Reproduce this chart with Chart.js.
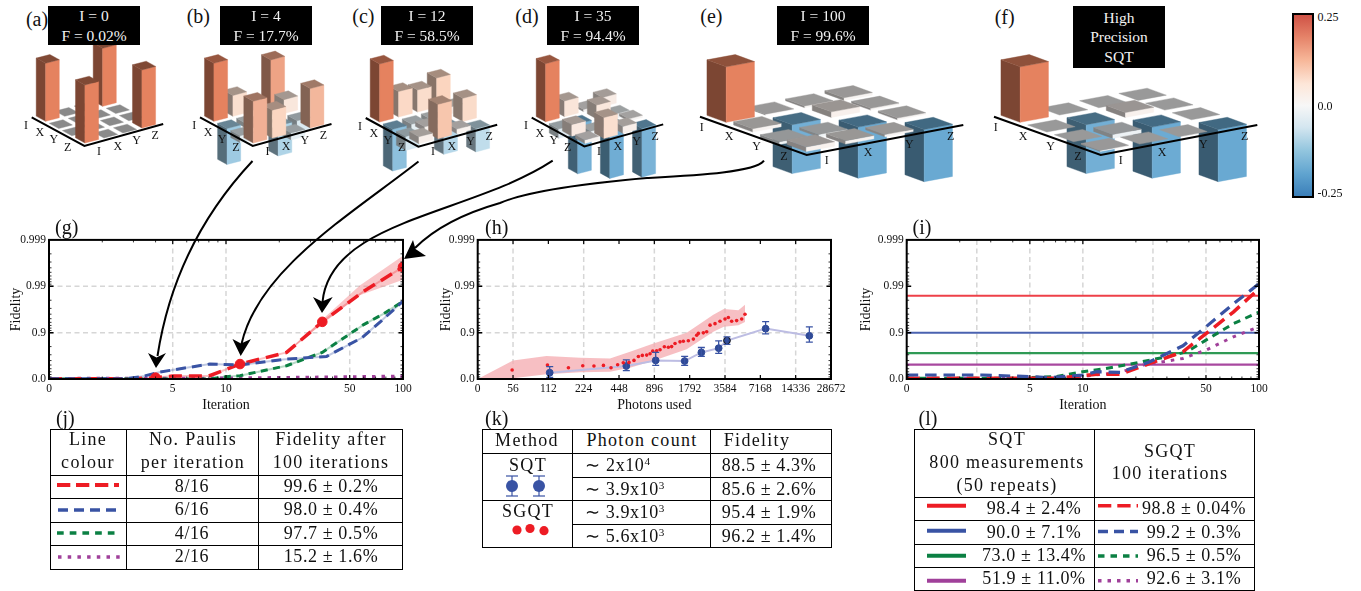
<!DOCTYPE html>
<html><head><meta charset="utf-8">
<script src="https://cdn.jsdelivr.net/npm/chart.js@4/dist/chart.umd.min.js"></script>
<style>
html,body{margin:0;padding:0;background:#fff;width:1361px;height:591px;overflow:hidden;font-family:"Liberation Serif",serif;color:#111}
canvas{position:absolute}
.t{position:absolute;transform:translate(-50%,-50%);white-space:nowrap;z-index:6;line-height:1}
.box{position:absolute;background:#000;color:#f2f2f2;font-size:15.5px;line-height:19.5px;text-align:center;z-index:6;display:flex;flex-direction:column;justify-content:center}
.ln{position:absolute;background:#000;z-index:6}
sup{font-size:.62em;line-height:0;vertical-align:.55em}
svg{position:absolute;left:0;top:0;z-index:7}
</style></head><body>
<script>
/* ---------- data: Pauli bar panels (row, then column; I X Y Z) ---------- */
const paulis=['I','X','Y','Z'];
const panelA=[[.25,0,0,.25],[0,0,0,0],[0,0,0,0],[.25,0,0,.25]];
const panelB=[[.25,.09,.004,.2],[-.155,-.02,.01,.06],[-.03,.02,-.13,-.05],[.18,.12,-.03,.17]];
const panelC=[[.25,.11,.095,.125],[-.18,-.03,-.02,.03],[-.06,.02,-.12,.10],[.03,.148,.02,-.1]];
const panelD=[[.25,.068,.01,.04],[-.04,-.215,.06,-.02],[.05,-.02,-.225,.01],[.015,.09,.03,-.21]];
const panelE=[[.25,.004,.008,.012],[.015,-.22,.025,.008],[-.012,-.012,-.23,.008],[.02,.015,.01,-.235]];
const panelF=[[.25,0,0,0],[0,-.22,.022,0],[0,-.018,-.23,0],[.004,0,0,-.235]];

/* ---------- data: (g) fidelity against iteration ---------- */
const iterTickValues=[1,5,10,50,100], iterTickLabels=['0','5','10','50','100'];
const fidTickValues=[0,0.9,0.99,0.999], fidTickLabels=['0.0','0.9','0.99','0.999'];
const gRedIter=[1,3,4,5,8,12,22,35,60,100];
const gRedFid=[0,.016,.064,.138,.138,.524,.733,.9415,.9872,.99616];
const gMarkIter=[4,12,35,100];
const gMarkFid=[.064,.524,.9415,.99616];
const gBlueIter=[1,2.74,3.4,4.23,8.1,12,21,37,58.6,74.4,100];
const gBlueFid=[.016,.016,.123,.293,.524,.5,.622,.674,.871,.9415,.979];
const gGreenIter=[1,8,10,12,22,35,60,78,100];
const gGreenFid=[0,0,.109,.152,.483,.733,.933,.961,.979];
const gPurpleIter=[1,10,50,100];
const gPurpleFid=[.016,.032,.094,.123];
const gBandIter=[22,35,57,100];
const gBandUp=[.733,.948,.9904,.9978];
const gBandLow=[.733,.935,.9844,.9928];

/* ---------- data: (h) fidelity against photons used ---------- */
const photonTickValues=[28,56,112,224,448,896,1792,3584,7168,14336,28672];
const photonTickLabels=['0','56','112','224','448','896','1792','3584','7168','14336','28672'];
const hRedPhotons=[55,110,166,220,274,330,383,436,487,545,601,655,708,771,823,868,938,1002,1090,1179,1258,1344,1482,1582,1745,1926,2056,2124,2343,2501,2671,2946,3248,3584,3826,4084,4503,4972,5305];
const hRedFid=[.359,.499,.429,.483,.474,.491,.429,.508,.554,.561,.603,.674,.69,.695,.714,.749,.753,.766,.798,.794,.8,.829,.842,.847,.85,.862,.886,.896,.899,.904,.931,.936,.943,.949,.953,.943,.945,.949,.96];
const hBandPhotons=[28,56,108,209,375,556,880,1690,2850,3500,4660,5305];
const hBandUp=[0,.603,.679,.652,.64,.741,.829,.9,.959,.969,.967,.975];
const hBandLow=[0,.032,.206,.281,.304,.429,.596,.773,.904,.925,.931,.941];
const hBluePhotons=[115,517,920,1623,2254,3165,3725,7950,18750];
const hBlueFid=[.269,.474,.603,.59,.733,.784,.852,.918,.883];
const hBlueErrUp=[.457,.615,.733,.674,.791,.85,.877,.942,.925];
const hBlueErrLow=[.08,.338,.491,.491,.674,.719,.82,.894,.84];

/* ---------- data: (i) SQT levels and SGQT curves ---------- */
const iterEnds=[1,100];
const iRedLevel=[.984,.984], iBlueLevel=[.9,.9], iGreenLevel=[.722,.722], iPurpleLevel=[.51,.51];
const iRedIter=[1,5,7.1,10,12,16.3,24,37,50,71.5,100];
const iRedFid=[.032,.032,.032,.152,.206,.206,.539,.741,.895,.964,.9887];
const iBlueIter=[1,2.7,5,6.5,10,12,16.3,24,37,50,71.5,100];
const iBlueFid=[.18,.18,.109,.064,.18,.304,.281,.575,.808,.925,.976,.9912];
const iGreenIter=[1,4.2,7.1,10,13,19.4,30,38.9,50,71.5,100];
const iGreenFid=[.032,.032,.123,.304,.39,.539,.669,.741,.855,.936,.964];
const iPurpleIter=[1,6.5,10,11.5,15.6,22,37,50,71.5,100];
const iPurpleFid=[.016,.032,.109,.18,.245,.5,.64,.762,.877,.925];

/* ---------- palette / helpers ---------- */
const RED='#ed1c24',BLUE='#3953a4',GREEN='#0b8043',PURPLE='#a0409a';
const DASH={red:[13,7],blue:[10,6],green:[7,5.5],purple:[3.5,6]};
Chart.defaults.font.family='"Liberation Serif",serif';
Chart.defaults.color='#111';
Chart.defaults.animation=false;
const body=document.body;
function txt(x,y,s,size,extra){const d=document.createElement('div');d.className='t';d.style.left=x+'px';d.style.top=y+'px';d.style.fontSize=size+'px';d.innerHTML=s;if(extra)Object.assign(d.style,extra);body.appendChild(d);return d;}
function mkCanvas(x,y,w,h){const c=document.createElement('canvas');c.width=w;c.height=h;c.style.left=x+'px';c.style.top=y+'px';c.style.width=w+'px';c.style.height=h+'px';body.appendChild(c);return c;}
const pts=(xs,fs)=>xs.map((x,i)=>({x,y:1-fs[i]}));

/* ---------- 3D Pauli panels ---------- */
function faceColor(v){
  const st=[[-.25,[95,163,207]],[-.125,[178,214,232]],[0,[247,247,247]],[.125,[251,213,191]],[.25,[229,130,95]]];
  v=Math.max(-.25,Math.min(.25,v));
  for(let i=0;i<4;i++){if(v<=st[i+1][0]){const t=(v-st[i][0])/(st[i+1][0]-st[i][0]);return st[i][1].map((a,k)=>a+(st[i+1][1][k]-a)*t);}}
  return st[4][1];
}
const shade=(c,f)=>`rgb(${c.map(a=>Math.round(a*f)).join(',')})`;
const bars3d={id:'bars3d',afterDatasetsDraw(ch,_,o){
  const g=ch.ctx,X=ch.scales.x,Y=ch.scales.y,ratio=o.R[0]/o.C[0],W=o.width;
  const P=(r,c,v)=>[X.getPixelForValue(c+r*ratio),Y.getPixelForValue(v-(r*o.R[1]+c*o.C[1])/o.H)];
  const poly=(a,col)=>{g.beginPath();a.forEach((p,i)=>i?g.lineTo(p[0],p[1]):g.moveTo(p[0],p[1]));g.closePath();g.fillStyle=col;g.strokeStyle=col;g.lineWidth=.4;g.fill();g.stroke();};
  const cells=ch.data.datasets[0].data.slice().sort((a,b)=>((a.v<0?0:1)-(b.v<0?0:1))||((a.r-a.c)-(b.r-b.c)));
  g.save();
  cells.forEach(d=>{
    const r0=d.r+.5-W/2,r1=d.r+.5+W/2,c0=d.c+.5-W/2,c1=d.c+.5+W/2,top=Math.max(d.v,0),bot=Math.min(d.v,0),col=faceColor(d.v);
    if(top!==bot){
      poly([P(r0,c0,top),P(r1,c0,top),P(r1,c0,bot),P(r0,c0,bot)],shade(col,.54));
      poly([P(r1,c0,top),P(r1,c1,top),P(r1,c1,bot),P(r1,c0,bot)],shade(col,1));
    }
    poly([P(r0,c0,top),P(r1,c0,top),P(r1,c1,top),P(r0,c1,top)],shade(col,o.topShade));
  });
  const a=o.axis;
  g.beginPath();g.moveTo(a[0][0],a[0][1]);g.lineTo(a[1][0],a[1][1]);g.lineTo(a[2][0],a[2][1]);g.lineWidth=2;g.strokeStyle='#000';g.stroke();
  g.restore();
}};
function panel(values,cv,geo){
  const [cx,cy,cw,chh]=cv,Ox=geo.O[0]-cx,Oy=geo.O[1]-cy;
  const data=[];
  values.forEach((row,r)=>row.forEach((v,c)=>data.push({x:c+.5+(r+.5)*geo.R[0]/geo.C[0],y:v-((r+.5)*geo.R[1]+(c+.5)*geo.C[1])/geo.H,r,c,v})));
  new Chart(mkCanvas(cx,cy,cw,chh),{type:'scatter',data:{datasets:[{data,pointRadius:0}]},plugins:[bars3d],options:{
    responsive:false,layout:{padding:0},
    plugins:{legend:{display:false},tooltip:{enabled:false},bars3d:{R:geo.R,C:geo.C,H:geo.H,width:geo.w,topShade:geo.top,axis:geo.axis.map(p=>[p[0]-cx,p[1]-cy])}},
    scales:{x:{display:false,min:-Ox/geo.C[0],max:(cw-Ox)/geo.C[0]},y:{display:false,min:(Oy-chh)/geo.H,max:Oy/geo.H}}}});
  paulis.forEach((s,i)=>{
    txt(geo.lab1[0]+i*geo.lab1[2],geo.lab1[1]+i*geo.lab1[3],s,12);
    txt(geo.lab2[0]+i*geo.lab2[2],geo.lab2[1]+i*geo.lab2[3],s,12);
  });
}
function small(L){return {O:[L[0],L[1]-1.5],R:[13.1,7.23],C:[19,-5],H:232,w:.72,top:.66,
  axis:[L,[L[0]+52.7,L[1]+28.7],[L[0]+131.5,L[1]+6.7]],
  lab1:[L[0]-5.7,L[1]+7.7,13.9,7.2],lab2:[L[0]+67.4,L[1]+33.4,18.7,-5.2]};}
function big(L){return {O:[L[0]-2.3,L[1]-1.7],R:[26.7,9.7],C:[39.3,-7.3],H:222,w:.72,top:.62,
  axis:[L,[L[0]+106.7,L[1]+38.3],[L[0]+263.3,L[1]+8.3]],
  lab1:[L[0]+1.7,L[1]+10,27.4,9.7],lab2:[L[0]+126.7,L[1]+43.3,41.3,-8]};}
panel(panelA,[10,35,180,160],Object.assign(small([31.7,117.3]),{top:.56}));
panel(panelB,[185,35,165,160],small([200,117.3]));
panel(panelC,[352,35,160,160],small([365.7,118]));
panel(panelD,[515,35,165,160],small([531.7,117.7]));
panel(panelE,[690,35,285,160],big([700,116.7]));
panel(panelF,[985,35,285,160],big([994,116.7]));

/* ---------- headings ---------- */
[[25,'(a)',36,19],[187,'(b)',34,16],[352,'(c)',34,16],[515,'(d)',36,16],[700,'(e)',34,16],[994,'(f)',32,17],
 [54,'(g)',38,227],[484,'(h)',38,227],[912,'(i)',30,227],[54,'(j)',34,418],[484,'(k)',38,418],[918,'(l)',30,418]]
 .forEach(a=>{txt(a[0]+a[2]/3,a[3],a[1],20);});
[[48,6,92,39,'I = 0<br>F = 0.02%'],[220,6,92,39,'I = 4<br>F = 17.7%'],[381,6,92,39,'I = 12<br>F = 58.5%'],
 [547,6,92,39,'I = 35<br>F = 94.4%'],[777,6,92,39,'I = 100<br>F = 99.6%'],[1073,6,92,62,'High<br>Precision<br>SQT']]
 .forEach(b=>{const d=document.createElement('div');d.className='box';Object.assign(d.style,{left:b[0]+'px',top:b[1]+'px',width:b[2]+'px',height:b[3]+'px'});d.innerHTML='<div>'+b[4]+'</div>';body.appendChild(d);});

/* ---------- colour bar ---------- */
const cb=document.createElement('div');
Object.assign(cb.style,{position:'absolute',left:'1292px',top:'13px',width:'18px',height:'181px',border:'2px solid #000',background:'linear-gradient(#cf5246 0%,#e58268 12%,#f7b799 25%,#fde6d8 38%,#f7f7f7 50%,#d4e6f0 62%,#92c5de 75%,#5fa3cf 88%,#3b7fb9 100%)'});
body.appendChild(cb);
txt(1328,17,'0.25',12);txt(1325,106,'0.0',12);txt(1330,193,'-0.25',12);

/* ---------- line plots ---------- */
const frame={id:'frame',
 beforeDatasetsDraw(ch,_,o){
  const g=ch.ctx,a=ch.chartArea,X=ch.scales.x,Y=ch.scales.y;
  g.save();g.strokeStyle='#d6d6d6';g.lineWidth=1.5;g.setLineDash([5,3.5]);
  (o.xGrid||[]).forEach(v=>{const p=X.getPixelForValue(v);g.beginPath();g.moveTo(p,a.top);g.lineTo(p,a.bottom);g.stroke();});
  (o.yGrid||[]).forEach(v=>{const p=Y.getPixelForValue(1-v);g.beginPath();g.moveTo(a.left,p);g.lineTo(a.right,p);g.stroke();});
  g.restore();
 },
 afterDatasetsDraw(ch,_,o){
  const g=ch.ctx,a=ch.chartArea,X=ch.scales.x,Y=ch.scales.y;
  g.save();
  if(o.err){g.strokeStyle=BLUE;g.lineWidth=1.3;
    o.err.x.forEach((x,i)=>{const p=X.getPixelForValue(x),u=Y.getPixelForValue(1-o.err.up[i]),l=Y.getPixelForValue(1-o.err.low[i]);
      g.beginPath();g.moveTo(p,u);g.lineTo(p,l);g.moveTo(p-3.5,u);g.lineTo(p+3.5,u);g.moveTo(p-3.5,l);g.lineTo(p+3.5,l);g.stroke();});}
  g.strokeStyle='#000';
  const tx=(v,len,w)=>{const p=X.getPixelForValue(v);g.lineWidth=w;g.beginPath();g.moveTo(p,a.top);g.lineTo(p,a.top+len);g.moveTo(p,a.bottom);g.lineTo(p,a.bottom-len);g.stroke();};
  const ty=(v,len,w)=>{const p=Y.getPixelForValue(v);g.lineWidth=w;g.beginPath();g.moveTo(a.left,p);g.lineTo(a.left+len,p);g.moveTo(a.right,p);g.lineTo(a.right-len,p);g.stroke();};
  (o.xMinor||[]).forEach(v=>tx(v,2.5,.8));
  (o.xMajor||[]).forEach(v=>tx(v,4,1.2));
  [.001,.01,.1].forEach(d=>{for(let k=2;k<10;k++)ty(d*k,2.5,.8);});
  [.1,.01].forEach(v=>ty(v,4.5,1.5));
  g.lineWidth=2;g.strokeRect(a.left,a.top,a.right-a.left,a.bottom-a.top);
  g.restore();
 }};
function plot(cv,area,xName,xVals,xLabs,datasets,fr,xMin,xMax){
  const [cx,cy,cw,chh]=cv;
  const yLabs=new Map(fidTickValues.map((f,i)=>[+(1-f).toFixed(3),fidTickLabels[i]]));
  const xLab=new Map(xVals.map((v,i)=>[v,xLabs[i]]));
  new Chart(mkCanvas(cx,cy,cw,chh),{type:'line',data:{datasets},plugins:[frame],options:{
    responsive:false,
    layout:{padding:{top:area[1]-cy,right:cx+cw-area[2],left:0,bottom:0}},
    elements:{point:{radius:0},line:{tension:0}},
    plugins:{legend:{display:false},tooltip:{enabled:false},frame:fr},
    scales:{
      x:{type:'logarithmic',min:xMin,max:xMax,grid:{display:false,drawTicks:false},border:{display:false},
         afterBuildTicks:s=>{s.ticks=xVals.map(v=>({value:v}));},
         afterFit:s=>{s.height=cy+chh-area[3];},
         ticks:{autoSkip:false,maxRotation:0,padding:3,font:{size:11.5},color:'#111',callback:v=>xLab.has(v)?xLab.get(v):''},
         title:{display:true,text:xName,font:{size:14},color:'#111',padding:{top:0,bottom:1.6}}},
      y:{type:'logarithmic',reverse:true,min:.001,max:1,grid:{display:false,drawTicks:false},border:{display:false},
         afterBuildTicks:s=>{s.ticks=fidTickValues.map(f=>({value:+(1-f).toFixed(3)}));},
         afterFit:s=>{s.width=area[0]-cx;},
         ticks:{autoSkip:false,padding:3,font:{size:11.5},color:'#111',callback:v=>yLabs.get(+(+v).toFixed(3))||''},
         title:{display:true,text:'Fidelity',font:{size:14},color:'#111',padding:{top:fr.titleTop,bottom:0}}}
    }}});
}
const dash=(x,f,col,d,w)=>({data:pts(x,f),borderColor:col,borderWidth:w,borderDash:d,fill:false});
const faint=(x,f,col)=>({data:pts(x,f),borderColor:col,borderWidth:2,fill:false});

/* (g) */
plot([0,230,420,185],[49,239.5,403,379],'Iteration',iterTickValues,iterTickLabels,[
  {data:pts(gMarkIter,gMarkFid),showLine:false,pointRadius:4.8,pointBackgroundColor:RED,pointBorderColor:RED},
  dash(gBlueIter,gBlueFid,BLUE,DASH.blue,3),
  dash(gRedIter,gRedFid,RED,DASH.red,3.5),
  dash(gGreenIter,gGreenFid,GREEN,DASH.green,3),
  dash(gPurpleIter,gPurpleFid,PURPLE,DASH.purple,3.5),
  faint(gBlueIter,gBlueFid,'rgba(57,83,164,.32)'),
  faint(gRedIter,gRedFid,'rgba(237,28,36,.28)'),
  faint(gGreenIter,gGreenFid,'rgba(11,128,67,.3)'),
  {data:pts(gBandIter,gBandUp),borderWidth:0,backgroundColor:'rgba(240,120,125,.42)',fill:9},
  {data:pts(gBandIter,gBandLow),borderWidth:0,fill:false}
],{titleTop:7.6,xGrid:[5,10,50],yGrid:[.9,.99],xMajor:iterTickValues,xMinor:[2,3,4,6,7,8,9,20,30,40,60,70,80,90]},1,100);

/* (h) */
plot([430,230,420,185],[477.7,239.5,831,379],'Photons used',photonTickValues,photonTickLabels,[
  {data:pts(hRedPhotons,hRedFid),showLine:false,pointRadius:1.8,pointBackgroundColor:RED,pointBorderColor:RED,pointBorderWidth:0},
  {data:pts(hBluePhotons,hBlueFid),showLine:false,pointRadius:3.4,pointBorderWidth:1,pointBackgroundColor:'#2f4a96',
    pointBorderColor:hBluePhotons.map((_,i)=>i===6?'#111':'#2f4a96')},
  {data:pts(hBluePhotons,hBlueFid),borderColor:'#bdbde3',borderWidth:2,fill:false},
  {data:pts(hBandPhotons,hBandUp),borderWidth:0,backgroundColor:'rgba(244,170,175,.75)',fill:4},
  {data:pts(hBandPhotons,hBandLow),borderWidth:0,fill:false}
],{titleTop:7.6,xGrid:[56,224,896,3584,14336],yGrid:[.9,.99],xMajor:photonTickValues,
   err:{x:hBluePhotons,up:hBlueErrUp,low:hBlueErrLow}},28,28672);

/* (i) */
plot([850,230,425,185],[906.7,239.5,1259,379],'Iteration',iterTickValues,iterTickLabels,[
  dash(iBlueIter,iBlueFid,BLUE,DASH.blue.map(v=>v*1.15),3.2),
  dash(iRedIter,iRedFid,RED,DASH.red,3.5),
  dash(iGreenIter,iGreenFid,GREEN,DASH.green,3),
  dash(iPurpleIter,iPurpleFid,PURPLE,DASH.purple,3),
  {data:pts(iterEnds,iRedLevel),borderColor:'#ee4048',borderWidth:2,fill:false},
  {data:pts(iterEnds,iBlueLevel),borderColor:'#4a62b0',borderWidth:2,fill:false},
  {data:pts(iterEnds,iGreenLevel),borderColor:'#2f9a55',borderWidth:2.2,fill:false},
  {data:pts(iterEnds,iPurpleLevel),borderColor:'#a8489f',borderWidth:2.2,fill:false}
],{titleTop:8,xGrid:[2.5,5,10,25,50,100],xMajor:iterTickValues,xMinor:[2,3,4,6,7,8,9,20,30,40,60,70,80,90]},1,100);

/* ---------- tables ---------- */
function hline(x0,x1,y){const d=document.createElement('div');d.className='ln';Object.assign(d.style,{left:x0+'px',top:y+'px',width:(x1-x0+1)+'px',height:'1.2px'});body.appendChild(d);}
function vline(x,y0,y1){const d=document.createElement('div');d.className='ln';Object.assign(d.style,{left:x+'px',top:y0+'px',height:(y1-y0+1)+'px',width:'1.2px'});body.appendChild(d);}
const HS={letterSpacing:'1.3px'},NS={letterSpacing:'.6px'};
/* (j) */
[429,475,498,522,545,569].forEach(y=>hline(50,402,y));[50,126,258,402].forEach(x=>vline(x,429,569));
txt(88,439,'Line',18,HS);txt(88,462,'colour',18,HS);txt(193,439,'No. Paulis',18,HS);txt(193,462,'per iteration',18,HS);
txt(331,439,'Fidelity after',18,HS);txt(331,462,'100 iterations',18,HS);
const jPaulis=['8/16','6/16','4/16','2/16'],jFid=['99.6 ± 0.2%','98.0 ± 0.4%','97.7 ± 0.5%','15.2 ± 1.6%'],jY=[486,509,533,556];
jY.forEach((y,i)=>{txt(192,y,jPaulis[i],18,NS);txt(331,y,jFid[i],18,NS);});
/* (k) */
[429,453,500,547].forEach(y=>hline(482,831,y));[477,524].forEach(y=>hline(572,831,y));[482,572,710,831].forEach(x=>vline(x,429,547));
txt(527,440,'Method',18,HS);txt(642,440,'Photon count',18,HS);txt(757,440,'Fidelity',18,HS);
txt(528,465,'SQT',18,HS);txt(528,511,'SGQT',18,HS);
const kCount=['∼ 2x10<sup>4</sup>','∼ 3.9x10<sup>3</sup>','∼ 3.9x10<sup>3</sup>','∼ 5.6x10<sup>3</sup>'],kFid=['88.5 ± 4.3%','85.6 ± 2.6%','95.4 ± 1.9%','96.2 ± 1.4%'],kY=[465,489,512,536];
kY.forEach((y,i)=>{txt(i?625:618,y,kCount[i],18,NS);txt(769,y,kFid[i],18,NS);});
/* (l) */
[429,497,520,544,567,590].forEach(y=>hline(914,1254,y));[914,1094,1254].forEach(x=>vline(x,429,590));
txt(1007,439,'SQT',18,HS);txt(1007,462,'800 measurements',18,HS);txt(1007,485,'(50 repeats)',18,HS);
txt(1170,451,'SGQT',18,HS);txt(1170,473,'100 iterations',18,HS);
const lSqt=['98.4 ± 2.4%','90.0 ± 7.1%','73.0 ± 13.4%','51.9 ± 11.0%'],lSgqt=['98.8 ± 0.04%','99.2 ± 0.3%','96.5 ± 0.5%','92.6 ± 3.1%'],lY=[508,532,555,578];
lY.forEach((y,i)=>{txt(1034,y,lSqt[i],18,NS);txt(1194,y,lSgqt[i],18,NS);});

/* ---------- overlay: legend keys and arrows ---------- */
const seg=(x0,x1,y,c,w,d)=>`<line x1="${x0}" x2="${x1}" y1="${y}" y2="${y}" stroke="${c}" stroke-width="${w}"${d?` stroke-dasharray="${d}"`:''}/>`;
const blueKey=x=>`<line x1="${x}" x2="${x}" y1="476" y2="496" stroke="${BLUE}" stroke-width="1.2"/><line x1="${x-6}" x2="${x+6}" y1="476" y2="476" stroke="${BLUE}" stroke-width="1.2"/><line x1="${x-6}" x2="${x+6}" y1="496" y2="496" stroke="${BLUE}" stroke-width="1.2"/><circle cx="${x}" cy="486" r="6" fill="${BLUE}"/>`;
const arrow=(d,head)=>`<path d="${d}" fill="none" stroke="#000" stroke-width="2"/><path d="${head}" fill="#000"/>`;
document.body.insertAdjacentHTML('beforeend',`<svg width="1361" height="591" viewBox="0 0 1361 591">
${seg(57,119,485,RED,4,'13.3 5.7')}${seg(58,116,510,BLUE,3.5,'10 6')}${seg(57,115,533,GREEN,3.5,'6.7 6')}${seg(58,120,557,PURPLE,3.5,'3.5 6.2')}
${blueKey(512)}${blueKey(539)}
<circle cx="517" cy="530" r="4.6" fill="${RED}"/><circle cx="530" cy="528.5" r="4.6" fill="${RED}"/><circle cx="544" cy="530.7" r="4.6" fill="${RED}"/>
${seg(927,966,505.7,RED,4)}${seg(927,966,530.7,BLUE,4)}${seg(927,966,555.7,GREEN,4)}${seg(927,966,580.7,PURPLE,4)}
${seg(1098,1138,505.7,RED,3.5,'13.3 6')}${seg(1098,1138,531.5,BLUE,3.5,'10 6')}${seg(1098,1138,556,GREEN,3.5,'6.5 6')}${seg(1098,1138,580.7,PURPLE,3.5,'3.5 6')}
${arrow('M252.5,161 C216,200 172,262 157.5,356','M156,368 L148,353 L156.5,357.5 L166,353 Z')}
${arrow('M418.5,161.5 C350,215 258,270 241.5,344','M240.7,356 L232.5,339 L241,343.5 L251,339 Z')}
${arrow('M552.7,160.7 C470,215 330,220 322.5,302','M322,313 L313,297 L322,301.5 L332.7,297 Z')}
${arrow('M764,160.7 C755,172 700,175 647,178 C590,183 530,190 500,203 C465,213 435,228 415,248','M404,259 L413,240 L415.5,249 L426,256 Z')}
</svg>`);
</script>
</body></html>
